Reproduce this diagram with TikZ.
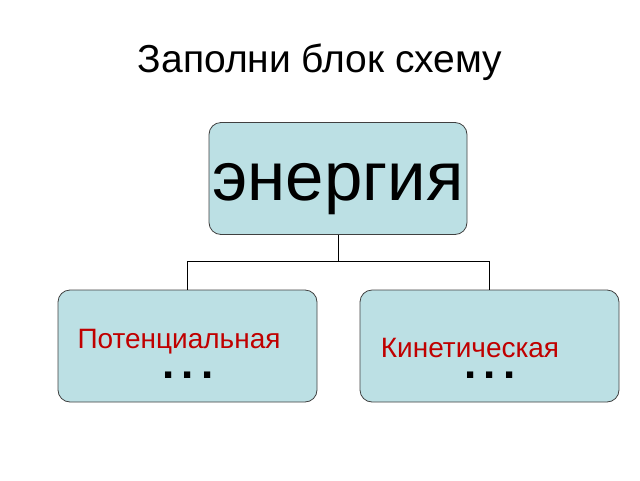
\documentclass[tikz,border=0pt]{standalone}
\usepackage{fontspec}
\setmainfont{Liberation Sans}
\begin{document}
\begin{tikzpicture}[x=1pt,y=-1pt,
  box/.style={draw=black!75,fill={rgb,255:red,188;green,224;blue,228},rounded corners=12pt,minimum width=258pt,minimum height=112pt,line width=0.8pt},
  lab/.style={text={rgb,255:red,192;green,0;blue,0},font=\fontsize{28}{30}\selectfont},
  dots/.style={font=\fontsize{44}{46}\selectfont\bfseries}]
\useasboundingbox (0,0) rectangle (640,480);
\node (title) at (320,62) {\fontsize{39}{44}\selectfont Заполни блок схему};
\node[box] (top) at (338,178.5) {};
\node at (338,189) {\fontsize{69}{76}\selectfont энергия};
\node[box,minimum width=259pt] (left) at (187.5,346) {};
\node[box,minimum width=259pt] (right) at (489.5,346) {};
\node[dots] (d1) at (188,375) {.\,.\,.};
\node[dots] (d2) at (490,375) {.\,.\,.};
\node[lab] (lp) at (179,342) {Потенциальная};
\node[lab] (lk) at (470,348) {Кинетическая};
\draw[line width=1pt] (top.south) -- ++(0,27) coordinate (m) -| (left.north);
\draw[line width=1pt] (m) -| (right.north);
\end{tikzpicture}
\end{document}
